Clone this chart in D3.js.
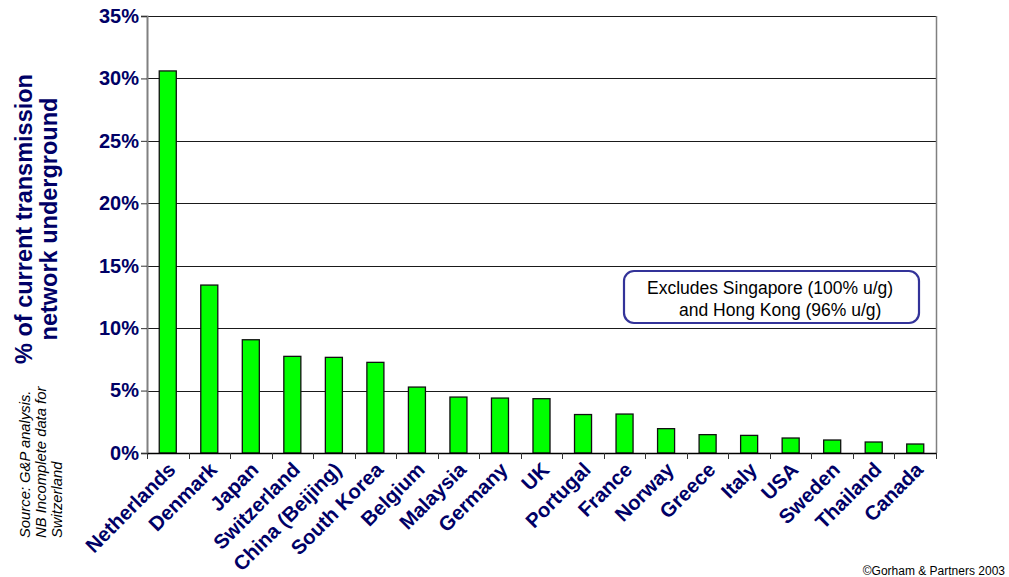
<!DOCTYPE html>
<html><head><meta charset="utf-8">
<script src="https://cdn.jsdelivr.net/npm/d3@7"></script>
<style>body{margin:0;background:#fff}svg{display:block}text{font-family:"Liberation Sans",Arial,sans-serif}</style>
</head><body>
<script>
const countries = ["Netherlands","Denmark","Japan","Switzerland","China (Beijing)","South Korea","Belgium","Malaysia","Germany","UK","Portugal","France","Norway","Greece","Italy","USA","Sweden","Thailand","Canada"];
const undergroundPct = [30.6,13.45,9.07,7.74,7.66,7.26,5.28,4.48,4.40,4.35,3.08,3.12,1.95,1.47,1.41,1.2,1.04,0.88,0.72];
const yTicks = [0,5,10,15,20,25,30,35];
const yTitle = ["% of current transmission","network underground"];
const noteLines = ["Excludes Singapore (100% u/g)","and Hong Kong (96% u/g)"];
const sourceLines = ["Source: G&P analysis.","NB Incomplete data for","Switzerland"];
const copyright = "\u00A9Gorham & Partners 2003";

const W=1009,H=577;
const navy="#000066";
const m={l:147,r:936,t:16,b:453};
const svg=d3.select("body").append("svg").attr("width",W).attr("height",H);
const x=d3.scaleBand().domain(countries).range([m.l,m.r]).paddingInner(0.59).paddingOuter(0.295);
const xb=d3.scaleBand().domain(countries).range([m.l,m.r]);
const y=d3.scaleLinear().domain([0,35]).range([m.b,m.t]);

// gridlines
svg.append("g").selectAll("line").data(yTicks.filter(d=>d>0)).join("line")
 .attr("x1",m.l).attr("x2",m.r).attr("y1",d=>Math.round(y(d))+0.5).attr("y2",d=>Math.round(y(d))+0.5)
 .attr("stroke","#1a1a1a").attr("stroke-width",1);
// right border
svg.append("line").attr("x1",m.r+0.5).attr("x2",m.r+0.5).attr("y1",m.t).attr("y2",m.b).attr("stroke","#808080").attr("stroke-width",1.5);

// bars
svg.append("g").selectAll("rect").data(countries).join("rect")
 .attr("x",d=>x(d)).attr("width",x.bandwidth())
 .attr("y",(d,i)=>y(undergroundPct[i])).attr("height",(d,i)=>y(0)-y(undergroundPct[i]))
 .attr("fill","#00ff00").attr("stroke","#111").attr("stroke-width",1.3);

// y axis
const ya=svg.append("g").attr("transform",`translate(${m.l},0)`)
 .call(d3.axisLeft(y).tickValues(yTicks).tickFormat(d=>d+"%").tickSize(6).tickPadding(2));
ya.select(".domain").attr("stroke","#808080").attr("stroke-width",2);
ya.selectAll(".tick line").attr("stroke","#333");
ya.selectAll(".tick text").attr("fill",navy).attr("font-size",20).attr("font-weight","bold").attr("font-family","Liberation Sans, Arial, sans-serif");

// x axis
const xa=svg.append("g").attr("transform",`translate(0,${m.b})`)
 .call(d3.axisBottom(xb).tickSize(0).tickFormat(""));
xa.select(".domain").attr("stroke","#000").attr("stroke-width",1.5);
svg.append("g").selectAll("line").data(countries.concat(["_end"])).join("line")
 .attr("x1",(d,i)=>Math.round(m.l+i*xb.step())+0.5).attr("x2",(d,i)=>Math.round(m.l+i*xb.step())+0.5)
 .attr("y1",m.b).attr("y2",m.b+6).attr("stroke","#333");

// x labels
svg.append("g").selectAll("text").data(countries).join("text")
 .attr("transform",d=>`translate(${xb(d)+xb.bandwidth()/2+4},${m.b+13}) rotate(-45)`)
 .attr("text-anchor","end").attr("dy","0.35em")
 .attr("fill",navy).attr("font-size",20.3).attr("font-weight","bold").text(d=>d);

// y title
const yt=svg.append("text").attr("transform","translate(32,219) rotate(-90)")
 .attr("text-anchor","middle").attr("fill",navy).attr("font-size",23.5).attr("font-weight","bold");
yt.selectAll("tspan").data(yTitle).join("tspan").attr("x",0).attr("dy",(d,i)=>i?25:0).text(d=>d);

// note box
svg.append("rect").attr("x",624).attr("y",271).attr("width",295).attr("height",52).attr("rx",10)
 .attr("fill","#fff").attr("stroke","#333399").attr("stroke-width",2.2);
svg.append("g").selectAll("text").data(noteLines).join("text")
 .attr("x",(d,i)=>i?679:647).attr("y",(d,i)=>294+i*22)
 .attr("font-size",17.5).attr("fill","#000").text(d=>d);

// source
const st=svg.append("text").attr("transform","translate(30,538) rotate(-90)")
 .attr("font-size",14.8).attr("font-style","italic").attr("fill","#000");
st.selectAll("tspan").data(sourceLines).join("tspan").attr("x",0).attr("dy",(d,i)=>i?16:0).text(d=>d);

svg.append("text").attr("x",1005).attr("y",575).attr("text-anchor","end").attr("font-size",12).attr("fill","#000").text(copyright);
</script>
</body></html>
